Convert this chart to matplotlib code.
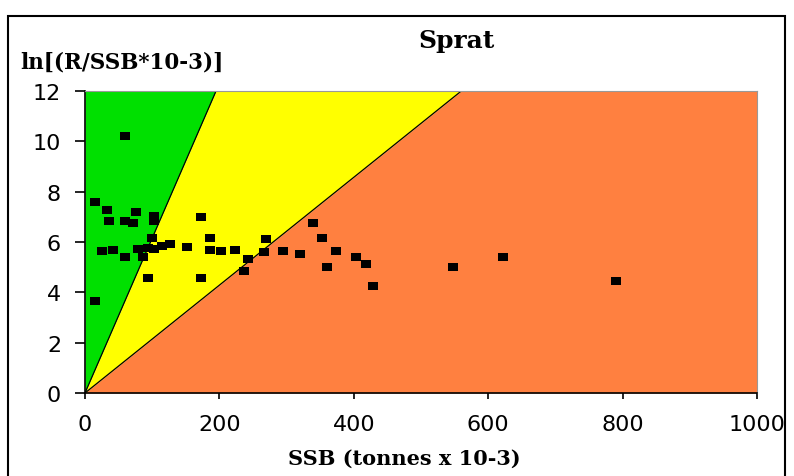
import matplotlib.pyplot as plt
import numpy as np
from matplotlib.patches import Rectangle

# SSB (tonnes x 10-3) and ln(R/SSB)
ssb = [59, 15, 33, 76, 36, 59, 72, 103, 103, 172, 99, 186, 269, 25, 41, 79, 102,
       114, 126, 152, 186, 203, 223, 59, 86, 243, 237, 266, 94, 172, 15, 94,
       339, 352, 294, 320, 374, 360, 404, 418, 429, 548, 622, 790]
lnr = [10.23, 7.58, 7.28, 7.21, 6.83, 6.83, 6.76, 7.05, 6.83, 6.98, 6.16, 6.16, 6.12,
       5.66, 5.69, 5.71, 5.73, 5.86, 5.92, 5.82, 5.70, 5.66, 5.69, 5.42, 5.42, 5.31,
       4.86, 5.59, 4.56, 4.56, 3.67, 5.76,
       6.76, 6.16, 5.66, 5.53, 5.66, 5.01, 5.42, 5.12, 4.27, 5.02, 5.41, 4.47]

# zone boundaries: lines through origin reaching y=12 at these SSB values
green_top = 195
yellow_top = 560
xticks = [0, 200, 400, 600, 800, 1000]
yticks = [0, 2, 4, 6, 8, 10, 12]

fig = plt.figure(figsize=(7.94, 4.77), dpi=100)
ax = fig.add_axes([85/794, 83/477, 672/794, 302/477])

x = np.linspace(0, 1000, 2001)
y_green = np.minimum(x * 12 / green_top, 12)
y_yellow = np.minimum(x * 12 / yellow_top, 12)
ax.fill_between(x, y_green, 12, color='#00e000', lw=0)
ax.fill_between(x, y_yellow, y_green, color='#ffff00', lw=0)
ax.fill_between(x, 0, y_yellow, color='#ff8040', lw=0)
ax.plot([0, green_top], [0, 12], color='k', lw=0.9)
ax.plot([0, yellow_top], [0, 12], color='k', lw=0.9)

rect = [(-1.35, -1), (1.35, -1), (1.35, 1), (-1.35, 1), (-1.35, -1)]
ax.scatter(ssb, lnr, marker=rect, s=60, color='k', zorder=3, lw=0)

ax.set_xlim(0, 1000)
ax.set_ylim(0, 12)
ax.set_xticks(xticks)
ax.set_yticks(yticks)
for s in ['top', 'right']:
    ax.spines[s].set_color('#999999')
for s in ['left', 'bottom']:
    ax.spines[s].set_color('k')
    ax.spines[s].set_linewidth(1.2)
ax.tick_params(axis='x', direction='out', length=4.3, width=1.2, labelsize=16, pad=11)
ax.tick_params(axis='y', direction='out', length=7.2, width=1.2, labelsize=16, pad=10)
for lab in ax.get_xticklabels() + ax.get_yticklabels():
    lab.set_fontfamily('DejaVu Sans')

fig.text(456/794, 1 - 48/477, 'Sprat', ha='center', va='baseline',
         family='DejaVu Serif', weight='bold', fontsize=18)
fig.text(20/794, 1 - 69/477, 'ln[(R/SSB*10-3)]', ha='left', va='baseline',
         family='DejaVu Serif', weight='bold', fontsize=15.5)
fig.text(404/794, 1 - 465/477, 'SSB (tonnes x 10-3)', ha='center', va='baseline',
         family='DejaVu Serif', weight='bold', fontsize=15)

fig.patches.append(Rectangle((8/794, -0.05), 777/794, 1.05 - 17/477,
                             transform=fig.transFigure, fill=False,
                             edgecolor='k', lw=1.5))

fig.savefig('out.png')
